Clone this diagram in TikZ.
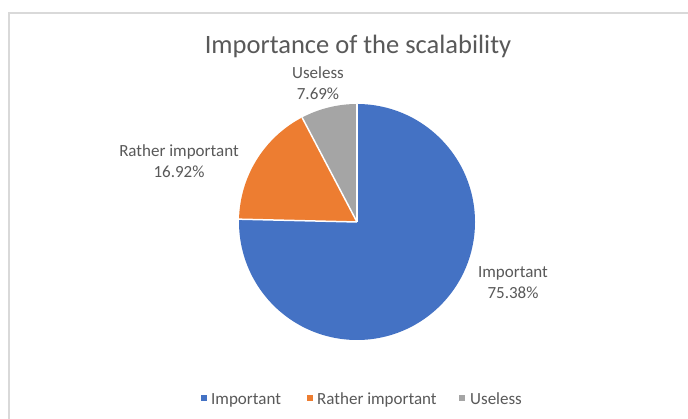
\documentclass[tikz,border=0pt]{standalone}
\usepackage{fontspec}
\setmainfont{Carlito}
\definecolor{cblue}{HTML}{4472C4}
\definecolor{corange}{HTML}{ED7D31}
\definecolor{cgray}{HTML}{A5A5A5}
\definecolor{ctext}{HTML}{595959}
\definecolor{cframe}{HTML}{D9D9D9}
\begin{document}
\begin{tikzpicture}[x=1pt,y=-1pt,
  slice/.style={draw=white,line width=1.5pt},
  lbl/.style={text=ctext,font=\fontsize{17}{21}\selectfont,align=center},
  leg/.style={text=ctext,font=\fontsize{17}{20}\selectfont,anchor=base west,inner sep=0pt},
  legmark/.style={minimum size=5.5pt,inner sep=0pt}]
\useasboundingbox (0,0) rectangle (688,419);
\fill[white] (0,0) rectangle (688,419);
\draw[cframe,line width=1.2pt] (9,419) -- (9,13) -- (688,13);
\node[text=ctext,font=\fontsize{26.5}{30}\selectfont] (title) at (358,46) {Importance of the scalability};
\coordinate (c) at (357,222);
\fill[cblue] (c) -- ++(-90:118) arc[start angle=-90,end angle=181.37,radius=118] -- cycle;
\fill[corange] (c) -- ++(-178.63:118) arc[start angle=-178.63,end angle=-117.72,radius=118] -- cycle;
\fill[cgray] (c) -- ++(-117.72:118) arc[start angle=-117.72,end angle=-90,radius=118] -- cycle;
\draw[slice] (c) -- ++(-90:118);
\draw[slice] (c) -- ++(-178.63:118);
\draw[slice] (c) -- ++(-117.72:118);
\node[lbl] (lu) at (318,83) {Useless\\7.69\%};
\node[lbl] (lr) at (179,161) {Rather important\\16.92\%};
\node[lbl] (li) at (513,283) {Important\\75.38\%};
\node[legmark,fill=cblue] (m1) at (204,398) {};
\node[leg] (t1) at (211,404) {Important};
\node[legmark,fill=corange] (m2) at (310,398) {};
\node[leg] (t2) at (317,404) {Rather important};
\node[legmark,fill=cgray] (m3) at (462,398) {};
\node[leg] (t3) at (470,404) {Useless};
\end{tikzpicture}
\end{document}
